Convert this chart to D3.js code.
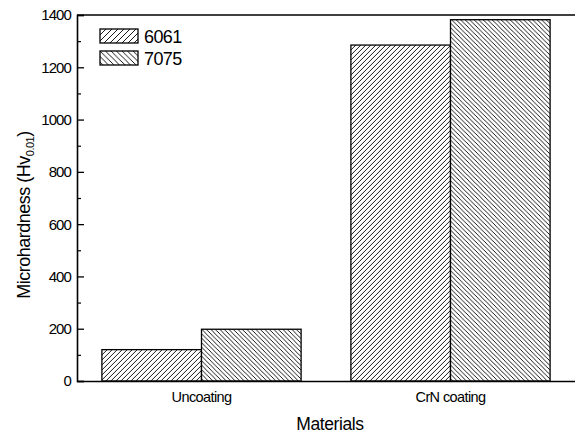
<!DOCTYPE html>
<html>
<head>
<meta charset="utf-8">
<script src="https://cdn.jsdelivr.net/npm/d3@7"></script>
<style>
  body { margin: 0; background: #fff; }
  svg { display: block; font-family: "Liberation Sans", Arial, sans-serif; }
</style>
</head>
<body>
<svg id="chart"></svg>
<script>
const categories = ['Uncoating', 'CrN coating']
const seriesNames = ['6061', '7075']
const values6061 = [120, 1285]
const values7075 = [198, 1382]
const yTicks = [0, 200, 400, 600, 800, 1000, 1200, 1400]

const width = 575, height = 434
const margin = { top: 15, right: 0, bottom: 53, left: 77 }

const svg = d3.select('#chart')
  .attr('width', width)
  .attr('height', height)

// hatch patterns
const defs = svg.append('defs')
function hatch(id, dir, gap) {
  const p = defs.append('pattern')
    .attr('id', id)
    .attr('patternUnits', 'userSpaceOnUse')
    .attr('width', gap)
    .attr('height', gap)
  p.append('rect').attr('width', gap).attr('height', gap).attr('fill', '#fff')
  const d = dir > 0
    ? `M0,${gap} L${gap},0 M${-gap},${gap} L0,0 M${gap},${2 * gap} L${2 * gap},${gap}`
    : `M0,0 L${gap},${gap} M${-gap},0 L0,${gap} M${gap},0 L${2 * gap},${gap}`
  p.append('path').attr('d', d).attr('stroke', '#000').attr('stroke-width', 0.9)
}
hatch('h6061', 1, 5)
hatch('h7075', -1, 4.5)
hatch('l6061', 1, 6)
hatch('l7075', -1, 5.5)

const data = categories.map((c, i) => ({ cat: c, vals: [values6061[i], values7075[i]] }))

// scales
const x = d3.scaleBand()
  .domain(categories)
  .range([margin.left, width - margin.right])
  .paddingInner(0.2)
  .paddingOuter(0.1)

const xs = d3.scaleBand()
  .domain(seriesNames)
  .range([0, x.bandwidth()])

const y = d3.scaleLinear()
  .domain([0, 1400])
  .range([height - margin.bottom, margin.top])

// bars
const groups = svg.append('g')
  .selectAll('g')
  .data(data)
  .join('g')
  .attr('transform', d => `translate(${x(d.cat)},0)`)

groups.selectAll('rect')
  .data(d => d.vals.map((v, j) => ({ s: seriesNames[j], v })))
  .join('rect')
  .attr('x', d => xs(d.s))
  .attr('y', d => y(d.v))
  .attr('width', xs.bandwidth())
  .attr('height', d => y(0) - y(d.v))
  .attr('fill', d => `url(#h${d.s})`)
  .attr('stroke', '#000')
  .attr('stroke-width', 1.3)

// y axis with inward ticks
const yAxis = svg.append('g')
  .attr('transform', `translate(${margin.left},0)`)
  .call(d3.axisRight(y).tickValues(yTicks).tickSize(7).tickFormat(''))
yAxis.select('.domain').attr('stroke-width', 1.6)
yAxis.selectAll('.tick line').attr('stroke-width', 1.3)

svg.append('g')
  .attr('transform', `translate(${margin.left},0)`)
  .call(d3.axisRight(y).tickValues(d3.range(100, 1400, 200)).tickSize(4).tickFormat(''))
  .call(g => g.select('.domain').remove())
  .selectAll('.tick line').attr('stroke-width', 1.2)

svg.append('g')
  .selectAll('text')
  .data(yTicks)
  .join('text')
  .attr('x', margin.left - 6)
  .attr('y', d => y(d))
  .attr('dy', '0.36em')
  .attr('text-anchor', 'end')
  .attr('font-size', 15)
  .attr('letter-spacing', -0.9)
  .text(d => d)

// x axis (bottom) and top frame
const xAxis = svg.append('g')
  .attr('transform', `translate(0,${y(0)})`)
  .call(d3.axisBottom(x).tickSize(0).tickPadding(11))
xAxis.select('.domain').attr('stroke-width', 1.6)
xAxis.selectAll('text')
  .attr('font-size', 14.5)
  .attr('letter-spacing', -0.6)
  .attr('font-family', '"Liberation Sans", Arial, sans-serif')
  .attr('fill', '#000')

svg.append('line')
  .attr('x1', margin.left).attr('x2', width)
  .attr('y1', y(1400)).attr('y2', y(1400))
  .attr('stroke', '#000').attr('stroke-width', 1.6)

// axis titles
svg.append('text')
  .attr('x', 330)
  .attr('y', 430)
  .attr('text-anchor', 'middle')
  .attr('font-size', 17.5)
  .attr('letter-spacing', -0.4)
  .text('Materials')

const yt = svg.append('text')
  .attr('transform', 'translate(30,215) rotate(-90)')
  .attr('text-anchor', 'middle')
  .attr('font-size', 18)
  .attr('letter-spacing', -0.5)
yt.append('tspan').text('Microhardness (Hv')
yt.append('tspan').attr('font-size', 11).attr('dy', 4).text('0.01')
yt.append('tspan').attr('dy', -4).text(')')

// legend
const legend = svg.append('g')
  .selectAll('g')
  .data(seriesNames)
  .join('g')
  .attr('transform', (d, i) => `translate(100,${29 + i * 22})`)

legend.append('rect')
  .attr('width', 38)
  .attr('height', 14)
  .attr('fill', d => `url(#l${d})`)
  .attr('stroke', '#000')
  .attr('stroke-width', 1.3)

legend.append('text')
  .attr('x', 44)
  .attr('y', 7)
  .attr('dy', '0.38em')
  .attr('font-size', 18)
  .attr('letter-spacing', -0.6)
  .text(d => d)
</script>
</body>
</html>
